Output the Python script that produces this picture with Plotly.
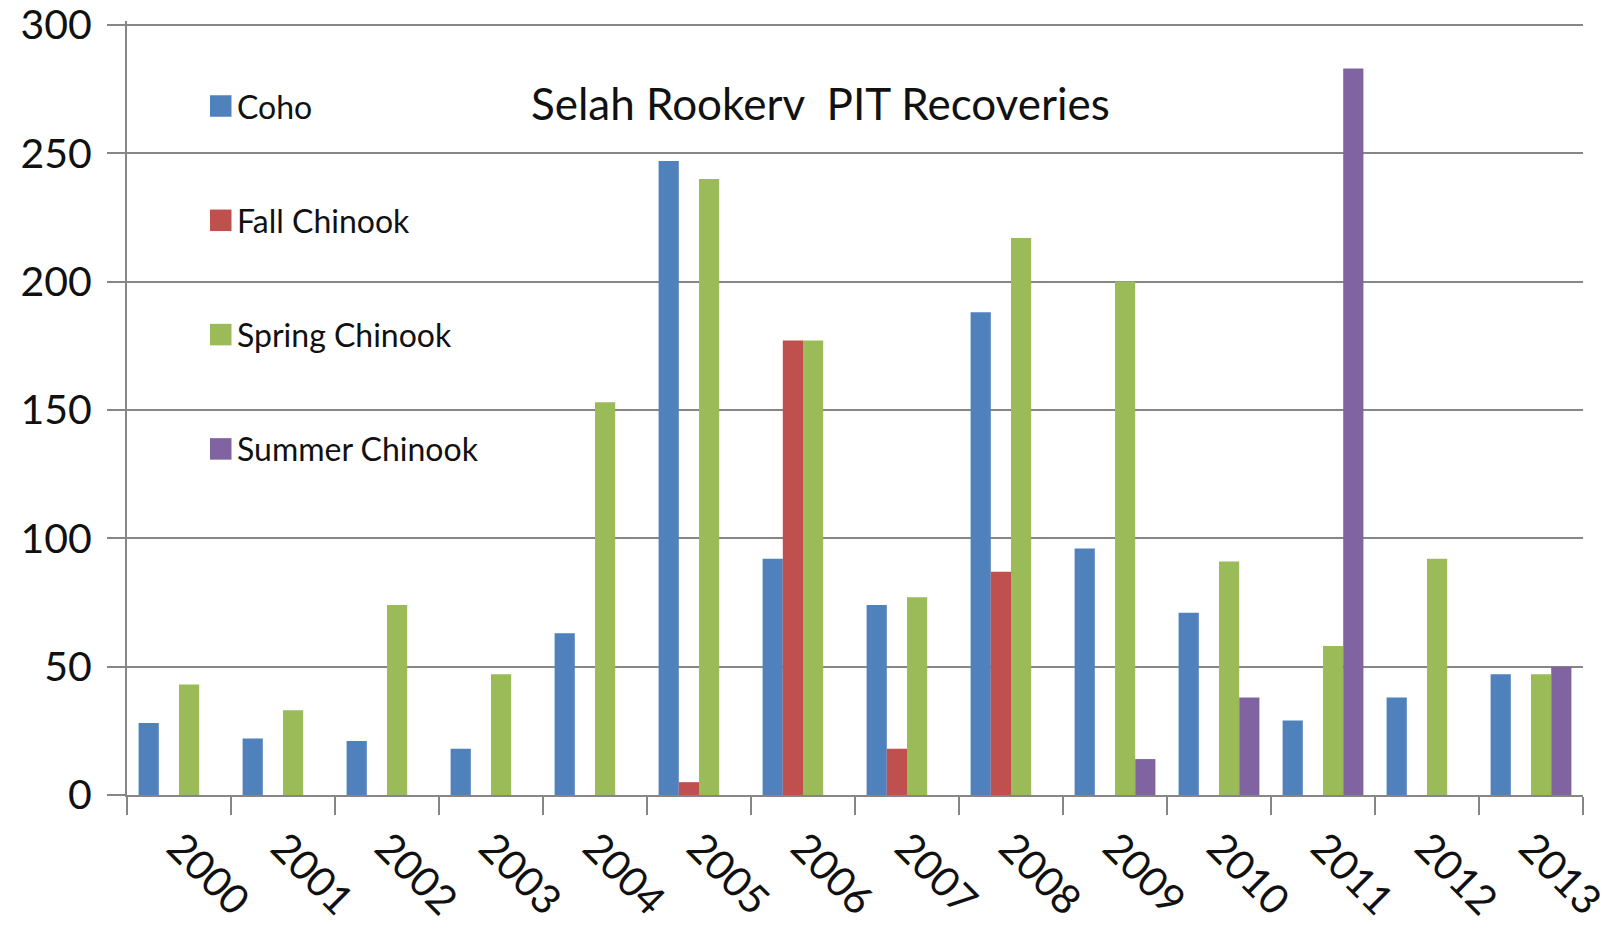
import plotly.graph_objects as go

# Recovery counts per release year
years = ["2000", "2001", "2002", "2003", "2004", "2005", "2006",
         "2007", "2008", "2009", "2010", "2011", "2012", "2013"]
coho = [28, 22, 21, 18, 63, 247, 92, 74, 188, 96, 71, 29, 38, 47]
fall_chinook = [0, 0, 0, 0, 0, 5, 177, 18, 87, 0, 0, 0, 0, 0]
spring_chinook = [43, 33, 74, 47, 153, 240, 177, 77, 217, 200, 91, 58, 92, 47]
summer_chinook = [0, 0, 0, 0, 0, 0, 0, 0, 0, 14, 38, 283, 0, 50]

series_names = ["Coho", "Fall Chinook", "Spring Chinook", "Summer Chinook"]
series_values = [coho, fall_chinook, spring_chinook, summer_chinook]
series_colors = ["#4F81BD", "#C0504D", "#9BBB59", "#8064A2"]

title_text = "Selah Rookerv  PIT Recoveries"
y_ticks = [0, 50, 100, 150, 200, 250, 300]

# Canvas and plot-area geometry (pixels)
W, H = 1614, 929
L, R, T, B = 127, 31, 21, 134
FONT = "Lato, 'Open Sans', sans-serif"
GRID = "#868686"


def fx(px):
    return (px - L) / (W - L - R)


def fy(py):
    return 1 - (py - T) / (H - T - B)


fig = go.Figure()
for name, vals, col in zip(series_names, series_values, series_colors):
    fig.add_trace(go.Bar(x=years, y=vals, name=name, marker_color=col,
                         marker_line_width=0, showlegend=False))

shapes = [
    # white legend panel hiding gridlines behind it
    dict(type="rect", xref="paper", yref="paper", layer="between",
         x0=fx(L + 1), x1=fx(560), y0=fy(490), y1=fy(40),
         fillcolor="white", line_width=0),
]
annotations = [
    dict(text=title_text, xref="paper", yref="paper", x=fx(529), y=fy(103),
         xanchor="left", yanchor="middle", showarrow=False,
         font=dict(family=FONT, size=44, color="#111111")),
]

# legend entries: colour swatch + label
sw = 21.5
for i, (name, col) in enumerate(zip(series_names, series_colors)):
    cy = 106 + i * 114.3
    shapes.append(dict(type="rect", xref="paper", yref="paper", layer="above",
                       x0=fx(210), x1=fx(210 + sw), y0=fy(cy + sw / 2), y1=fy(cy - sw / 2),
                       fillcolor=col, line_width=0))
    annotations.append(dict(text=name, xref="paper", yref="paper",
                            x=fx(235), y=fy(cy), xanchor="left", yanchor="middle",
                            showarrow=False,
                            font=dict(family=FONT, size=32, color="#111111")))

fig.update_layout(
    width=W, height=H, autosize=False,
    margin=dict(l=L, r=R, t=T, b=B, pad=0, autoexpand=False),
    paper_bgcolor="white", plot_bgcolor="white",
    barmode="group", bargap=0.223, bargroupgap=0,
    font=dict(family=FONT, color="#111111"),
    shapes=shapes, annotations=annotations,
    showlegend=False,
)
fig.update_xaxes(
    type="category", tickson="boundaries", automargin=False,
    ticks="outside", ticklen=18, tickwidth=2, tickcolor=GRID,
    showline=True, linecolor=GRID, linewidth=2,
    showgrid=False, tickangle=45, ticklabelstandoff=10,
    tickfont=dict(family=FONT, size=41, color="#111111"),
)
fig.update_yaxes(
    range=[0, 301.5], tickvals=y_ticks, automargin=False,
    ticks="outside", ticklen=18, tickwidth=2, tickcolor=GRID,
    showline=True, linecolor=GRID, linewidth=2,
    showgrid=True, gridcolor=GRID, gridwidth=2, zeroline=False,
    ticklabelstandoff=7, ticklabeloverflow="allow",
    tickfont=dict(family=FONT, size=41, color="#111111"),
)

fig.write_html("out.html")
